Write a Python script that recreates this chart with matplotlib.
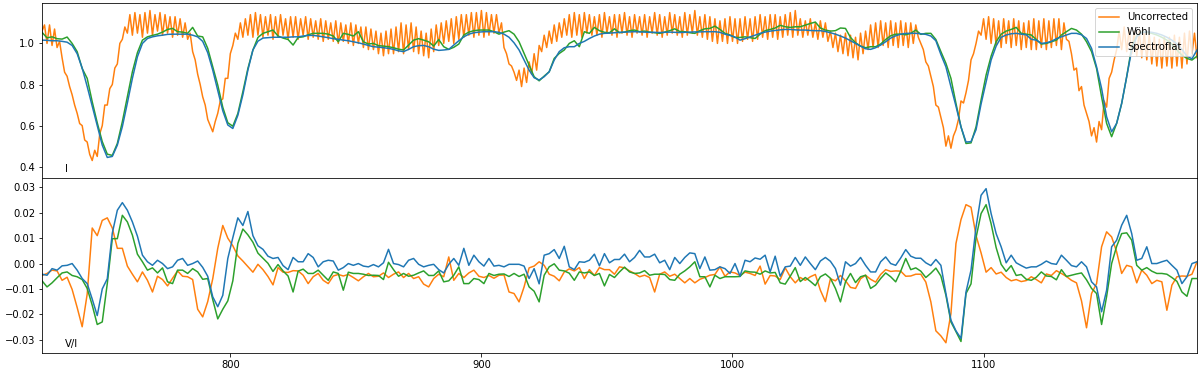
import numpy as np
import matplotlib
matplotlib.use("Agg")
import matplotlib.pyplot as plt

# Intensidad sin corregir (paso de 1, franjas de interferencia)
I_uncorr = [
    1.06, 1.09, 1.00, 1.09, 0.99, 1.07, 0.98, 1.01, 0.93, 0.86,
    0.84, 0.79, 0.75, 0.70, 0.66, 0.61, 0.60, 0.53, 0.52, 0.46,
    0.43, 0.48, 0.45, 0.56, 0.60, 0.70, 0.70, 0.78, 0.80, 0.88,
    0.90, 1.00, 1.02, 1.08, 1.05, 1.14, 1.04, 1.15, 1.05, 1.14,
    1.03, 1.15, 1.05, 1.16, 1.04, 1.14, 1.06, 1.15, 1.04, 1.14,
    1.05, 1.13, 1.03, 1.13, 1.04, 1.12, 1.03, 1.10, 1.02, 1.05,
    0.96, 0.92, 0.85, 0.80, 0.74, 0.70, 0.63, 0.60, 0.57, 0.62,
    0.66, 0.72, 0.73, 0.83, 0.83, 0.95, 0.99, 1.05, 1.02, 1.10,
    1.03, 1.12, 1.04, 1.14, 1.03, 1.15, 1.04, 1.14, 1.03, 1.13,
    1.04, 1.14, 1.02, 1.13, 1.03, 1.14, 1.04, 1.12, 1.02, 1.13,
    1.03, 1.13, 1.02, 1.12, 1.04, 1.13, 1.02, 1.12, 1.03, 1.11,
    1.02, 1.12, 1.01, 1.11, 1.02, 1.10, 1.01, 1.11, 1.00, 1.10,
    1.01, 1.09, 1.00, 1.10, 0.99, 1.09, 1.00, 1.08, 0.98, 1.08,
    0.97, 1.07, 0.97, 1.06, 0.95, 1.05, 0.94, 1.06, 0.95, 1.07,
    0.95, 1.08, 0.96, 1.10, 0.95, 1.09, 0.97, 1.10, 0.96, 1.08,
    0.95, 1.06, 0.94, 1.05, 0.93, 1.07, 0.96, 1.09, 0.99, 1.10,
    1.00, 1.11, 1.01, 1.12, 1.00, 1.13, 1.02, 1.14, 1.03, 1.14,
    1.04, 1.15, 1.03, 1.15, 1.04, 1.16, 1.03, 1.15, 1.04, 1.14,
    1.05, 1.14, 1.05, 1.10, 0.98, 0.95, 0.90, 0.89, 0.86, 0.82,
    0.87, 0.79, 0.88, 0.81, 0.91, 0.85, 0.95, 0.87, 0.99, 0.96,
    1.04, 0.98, 1.06, 1.00, 1.09, 1.01, 1.10, 1.03, 1.12, 1.04,
    1.14, 1.03, 1.15, 1.04, 1.14, 1.03, 1.15, 1.05, 1.14, 1.04,
    1.13, 1.04, 1.14, 1.03, 1.15, 1.05, 1.13, 1.04, 1.14, 1.03,
    1.14, 1.05, 1.15, 1.04, 1.13, 1.03, 1.14, 1.05, 1.13, 1.04,
    1.14, 1.03, 1.13, 1.05, 1.15, 1.04, 1.14, 1.03, 1.13, 1.04,
    1.15, 1.05, 1.14, 1.04, 1.13, 1.03, 1.15, 1.04, 1.14, 1.05,
    1.16, 1.04, 1.13, 1.03, 1.14, 1.02, 1.13, 1.01, 1.12, 1.00,
    1.11, 1.01, 1.12, 1.00, 1.13, 1.01, 1.12, 1.00, 1.12, 1.01,
    1.13, 1.02, 1.12, 1.01, 1.13, 1.02, 1.14, 1.03, 1.13, 1.02,
    1.14, 1.03, 1.14, 1.02, 1.13, 1.03, 1.14, 1.04, 1.15, 1.03,
    1.16, 1.04, 1.12, 1.03, 1.11, 1.04, 1.12, 1.03, 1.10, 1.02,
    1.11, 1.03, 1.10, 1.01, 1.06, 0.98, 1.05, 0.96, 1.04, 0.95,
    1.05, 0.94, 1.04, 0.93, 1.03, 0.92, 1.05, 0.95, 1.06, 0.97,
    1.09, 0.98, 1.10, 0.98, 1.11, 0.99, 1.10, 0.98, 1.11, 0.99,
    1.10, 0.98, 1.11, 0.99, 1.10, 0.98, 1.10, 1.00, 1.09, 1.03,
    1.00, 0.97, 0.91, 0.89, 0.84, 0.79, 0.70, 0.69, 0.64, 0.59,
    0.50, 0.55, 0.49, 0.55, 0.58, 0.63, 0.72, 0.71, 0.76, 0.82,
    0.92, 0.95, 1.00, 1.06, 1.04, 1.12, 1.02, 1.13, 1.00, 1.12,
    0.99, 1.11, 0.98, 1.12, 1.00, 1.11, 0.98, 1.12, 0.99, 1.11,
    0.97, 1.10, 0.98, 1.11, 0.97, 1.12, 0.97, 1.11, 0.98, 1.12,
    0.97, 1.11, 0.98, 1.12, 0.99, 1.12, 0.97, 1.10, 1.02, 1.01,
    0.95, 0.87, 0.88, 0.77, 0.79, 0.70, 0.66, 0.62, 0.55, 0.59,
    0.52, 0.62, 0.58, 0.72, 0.69, 0.83, 0.86, 0.92, 0.97, 1.06,
    0.97, 1.08, 0.96, 1.07, 0.95, 1.06, 0.94, 1.06, 0.93, 1.05,
    0.92, 1.04, 0.90, 1.03, 0.89, 1.02, 0.88, 1.03, 0.89, 1.03,
    0.88, 1.04, 0.89, 1.03, 0.88, 1.05, 0.90, 1.06, 0.95, 1.05, 0.93,
]

# Intensidad corregida (paso de 2)
I_wohl = [
    1.054, 1.027, 1.032, 1.023, 1.021, 1.031, 1.000, 0.960, 0.878, 0.830,
    0.716, 0.614, 0.522, 0.461, 0.455, 0.513, 0.619, 0.740, 0.862, 0.955,
    1.016, 1.032, 1.039, 1.045, 1.055, 1.068, 1.073, 1.057, 1.055, 1.049,
    1.078, 1.036, 1.032, 0.976,
    0.886, 0.797, 0.689, 0.614, 0.597, 0.659, 0.765, 0.878, 0.968, 1.029,
    1.049, 1.057, 1.065, 1.036, 1.026, 1.019, 0.992, 1.029, 1.032, 1.042,
    1.049, 1.049, 1.049, 1.045, 1.036, 1.008, 1.049, 1.044, 1.036, 1.057,
    1.008, 0.997, 1.000,
    0.989, 0.987, 0.984, 0.979, 0.972, 0.968, 0.992, 1.016, 1.023, 1.016,
    1.008, 0.987, 1.019, 0.984, 0.971, 0.981, 0.997, 1.041, 1.055, 1.062,
    1.065, 1.065, 1.065, 1.057, 1.045, 1.055, 1.062, 1.045, 1.008, 0.951,
    0.895, 0.838, 0.818,
    0.841, 0.862, 0.927, 0.951, 0.968, 1.000, 1.013, 0.984, 1.057, 1.049,
    1.078, 1.062, 1.054, 1.052, 1.071, 1.052, 1.055, 1.062, 1.065, 1.057,
    1.060, 1.055, 1.052, 1.049, 1.055, 1.062, 1.071, 1.058, 1.057, 1.052,
    1.049, 1.062, 1.071,
    1.073, 1.084, 1.068, 1.049, 1.041, 1.029, 1.029, 1.032, 1.028, 1.024,
    1.045, 1.062, 1.068, 1.075, 1.088, 1.081, 1.078, 1.081, 1.081, 1.089,
    1.097, 1.104, 1.075, 1.065, 1.060, 1.062, 1.075, 1.073, 1.029, 1.003,
    0.987, 0.979,
    0.984, 0.984, 0.997, 1.019, 1.037, 1.045, 1.045, 1.042, 1.049, 1.065,
    1.044, 1.049, 1.049, 1.019, 0.960, 0.903, 0.830, 0.708, 0.594, 0.513,
    0.516, 0.594, 0.724, 0.846, 0.938, 1.008, 1.045, 1.060, 1.068, 1.078,
    1.049, 1.045, 1.041,
    1.019, 0.997, 1.000, 1.008, 1.016, 1.041, 1.057, 1.073, 1.065, 1.045,
    1.008, 0.960, 0.878, 0.740, 0.611, 0.546, 0.611, 0.708, 0.838, 0.984,
    1.036, 1.055, 1.054, 1.049, 1.041, 1.030, 1.016, 0.997, 0.968, 0.943,
    0.927, 0.919, 0.938,
]

I_flat = [
    1.016, 1.015, 1.013, 1.013, 1.010, 1.006, 0.990, 0.950, 0.880, 0.790,
    0.695, 0.600, 0.505, 0.445, 0.450, 0.505, 0.595, 0.710, 0.830, 0.935,
    1.000, 1.024, 1.032, 1.037, 1.040, 1.044, 1.045, 1.045, 1.045, 1.045,
    1.040, 1.032, 1.010, 0.955,
    0.870, 0.770, 0.672, 0.603, 0.586, 0.650, 0.750, 0.870, 0.968, 1.011,
    1.026, 1.028, 1.030, 1.030, 1.030, 1.030, 1.032, 1.032, 1.036, 1.039,
    1.039, 1.036, 1.032, 1.028, 1.023, 1.020, 1.016, 1.013, 1.008, 1.003,
    0.997, 0.990, 0.984,
    0.982, 0.979, 0.976, 0.971, 0.964, 0.960, 0.971, 0.984, 0.989, 0.990,
    0.984, 0.972, 0.966, 0.968, 0.971, 0.992, 1.013, 1.032, 1.045, 1.052,
    1.055, 1.057, 1.057, 1.057, 1.054, 1.045, 1.030, 1.003, 0.968, 0.919,
    0.870, 0.833, 0.822,
    0.838, 0.862, 0.919, 0.960, 0.979, 0.984, 0.984, 1.000, 1.010, 1.024,
    1.036, 1.045, 1.049, 1.050, 1.052, 1.054, 1.055, 1.056, 1.057, 1.056,
    1.055, 1.054, 1.054, 1.053, 1.054, 1.055, 1.054, 1.053, 1.054, 1.055,
    1.056, 1.056, 1.057,
    1.057, 1.057, 1.054, 1.045, 1.039, 1.031, 1.016, 1.023, 1.032, 1.040,
    1.049, 1.055, 1.060, 1.063, 1.066, 1.068, 1.068, 1.066, 1.065, 1.065,
    1.063, 1.062, 1.062, 1.058, 1.052, 1.045, 1.036, 1.026, 1.013, 1.000,
    0.987, 0.974,
    0.971, 0.979, 0.992, 1.008, 1.026, 1.037, 1.045, 1.049, 1.049, 1.049,
    1.047, 1.044, 1.036, 1.013, 0.946, 0.886, 0.789, 0.695, 0.594, 0.520,
    0.522, 0.580, 0.705, 0.813, 0.919, 0.987, 1.030, 1.041, 1.047, 1.049,
    1.045, 1.042, 1.020,
    1.016, 1.000, 1.003, 1.010, 1.023, 1.032, 1.041, 1.049, 1.049, 1.042,
    1.024, 0.976, 0.886, 0.781, 0.643, 0.570, 0.611, 0.708, 0.838, 0.968,
    1.032, 1.052, 1.057, 1.054, 1.049, 1.041, 1.030, 1.016, 0.997, 0.971,
    0.938, 0.925, 0.968,
]

# V/I en unidades de 1e-3 (paso de 2)
V_uncorr = [
    -4.7, -3.9, -2.6, -2.9, -6.6, -5.4, -10.2, -17.3, -24.9, -12.0,
    14.0, 11.0, 17.0, 18.0, 14.0, 6.0, 6.0, -1.0, -4.2, -7.2,
    -3.3, -6.6, -11.2, -5.0, -6.3, -8.8, -5.8, -2.9, -5.0, -5.2,
    -6.3, -18.0, -21.0, -15.0,
    -6.0, 6.0, 15.0, 10.0, 7.0, 3.0, 1.0, -1.2, -3.4, -0.3,
    -2.4, -5.1, -8.4, -1.6, -3.4, -3.5, -2.8, -2.9, -4.6, -7.9,
    -5.2, -3.9, -6.6, -7.9, -4.9, -4.3, -4.9, -4.3, -5.5, -6.8,
    -5.2, -3.9, -5.2,
    -5.0, -3.7, -5.5, -4.2, -3.3, -5.5, -3.9, -5.9, -5.2, -8.1,
    -9.2, -5.9, -4.2, -5.2, 2.6, -6.6, -3.9, -5.5, -3.7, -2.6,
    -5.0, -5.5, -4.7, -5.8, -4.6, -4.5, -11.2, -11.8, -15.1, -9.2,
    -1.7, -1.0, 0.7,
    -0.7, -4.2, -5.0, -6.8, -3.3, -2.1, -2.9, -1.6, -5.9, -2.4,
    -4.7, -1.6, -2.4, -2.4, -4.2, -1.3, -1.7, -2.9, -3.9, -5.2,
    -4.6, -5.5, -11.2, -4.2, -3.3, -5.0, -4.2, -5.9, -7.6, -5.9,
    -7.6, -6.2, -5.5,
    -4.6, -4.3, -1.3, -5.0, -3.3, -3.7, -4.7, -3.4, -3.9, -4.7,
    -1.0, -8.1, -4.7, -4.9, -6.3, -1.7, -5.2, -7.6, -5.5, -6.6,
    -5.2, -4.3, -10.5, -15.0, -6.0, -6.8, -4.7, -6.8, -9.4, -9.8,
    -6.0, -4.6,
    -6.2, -7.3, -4.3, -2.4, -3.1, -2.9, -3.0, -5.0, -4.9, -4.2,
    -4.2, -7.3, -15.1, -26.5, -28.5, -31.2, -19.7, 7.9, 17.3, 23.2,
    22.2, 11.0, 4.2, -3.4, -1.6, -4.1, -3.4, -5.5, -6.8, -6.3,
    -7.1, -6.7, -5.2,
    -6.3, -7.6, -4.1, -4.7, -2.8, -3.9, -5.1, -6.6, -7.6, -14.7,
    -25.3, -11.8, -7.9, 6.6, 12.5, 10.5, 4.6, -3.9, -0.7, -1.3,
    -7.6, -2.6, -4.6, -7.9, -6.6, -7.2, -18.4, -8.5, -5.2, -4.9,
    -5.0, -4.2, 0.7,
]

V_wohl = [
    -6.8, -9.2, -7.6, -5.6, -3.7, -3.3, -4.7, -5.2, -6.3, -9.8,
    -16.4, -24.0, -23.0, -7.9, 9.8, 9.8, 19.0, 16.4, 11.2, 3.7,
    0.7, -2.6, -1.7, -3.7, -1.7, -7.2, -7.9, -2.6, -2.6, -3.9,
    -2.0, -3.3, -6.2, -5.9,
    -14.2, -21.8, -18.0, -14.7, -6.8, 7.9, 13.6, 11.3, 8.4, 4.1,
    2.1, 0.1, -3.1, -0.4, -2.9, -4.9, -11.2, -3.0, -2.2, -3.9,
    -3.9, -2.6, -4.6, -6.6, -3.3, -3.9, -10.5, -3.4, -3.9, -3.9,
    -4.2, -4.7, -4.6,
    -4.7, -6.3, 0.5, -2.4, -5.0, -3.9, -5.0, -4.6, -3.7, -2.9,
    -4.7, -4.7, -2.9, -7.2, -6.8, -4.6, -1.3, -7.9, -7.9, -5.9,
    -6.3, -7.9, -3.9, -4.7, -4.2, -4.1, -5.1, -3.9, -5.1, -4.2,
    -9.2, -10.9, -15.1,
    -4.6, -1.3, -0.1, -2.6, -2.9, -3.8, -6.6, -3.3, -3.7, -3.3,
    -4.7, -3.9, -8.8, -4.3, -5.5, -3.3, -1.4, -3.3, -3.9, -3.7,
    -2.8, -4.6, -4.2, -4.2, -4.3, -6.3, -6.6, -4.2, -2.9, -1.3,
    0.7, -5.2, -5.2,
    -9.2, -4.6, -5.9, -5.2, -5.2, -5.2, -5.1, -2.9, -3.3, -3.4,
    -4.2, -2.9, -3.7, -3.5, -7.6, -8.1, -5.0, -1.6, -7.1, -5.5,
    -7.0, -8.7, -5.2, -4.1, -5.8, -9.8, -15.1, -7.2, -3.9, -7.5,
    -5.2, -4.6,
    -9.8, -8.5, -5.9, -3.7, -5.2, -7.2, -3.0, 2.0, -2.4, -1.7,
    -3.0, -5.5, -3.8, -1.8, -4.9, -12.5, -23.0, -26.8, -30.7, -11.8,
    -8.0, 10.2, 19.7, 23.2, 15.7, 6.3, -0.3, -3.1, -0.8, -4.7,
    -4.3, -6.2, -6.6,
    -5.4, -3.3, -4.9, -5.1, -6.4, -2.4, -5.1, -4.6, -4.1, -3.7,
    -6.4, -9.8, -11.8, -24.0, -13.0, 0.0, 6.8, 11.8, 12.1, 9.2,
    -0.7, -2.6, -1.6, -3.0, -3.9, -3.9, -4.2, -5.5, -7.0, -11.2,
    -12.9, -5.9, -5.9,
]

V_flat = [
    -4.2, -4.6, -2.0, -2.6, -0.9, -0.7, 0.0, -2.6, -5.9, -7.9,
    -14.0, -20.5, -10.0, -6.0, 12.0, 21.0, 24.0, 21.0, 16.4, 10.8,
    3.3, 0.7, -0.7, 1.3, 0.0, -2.0, -1.3, 1.3, 2.0, -0.7,
    0.0, 1.0, -1.5, -5.0,
    -13.1, -17.0, -12.5, 2.0, 10.2, 18.0, 15.0, 20.5, 11.0, 7.0,
    5.6, 2.9, 2.0, 2.4, -0.8, -2.4, 2.4, 0.7, 0.7, 3.9,
    2.4, -1.3, 0.7, 1.3, 1.0, -2.6, -1.6, 0.0, -0.7, 0.0,
    -1.0, -1.3, -0.4,
    -1.3, 0.3, 5.6, 0.0, -0.4, -1.3, 1.3, 2.0, -0.3, -1.3,
    -0.7, -0.3, -2.4, -3.7, -0.3, 2.0, -0.7, 6.0, -0.7, 3.3,
    0.7, -1.0, 2.0, -1.0, -0.7, -1.3, -0.3, -0.3, -0.3, -1.0,
    -5.9, -2.0, -8.0,
    3.3, 3.9, 5.5, 2.0, 6.8, -1.3, -2.4, 0.7, 0.5, 1.3,
    3.7, -0.9, 3.9, 0.3, 1.6, 1.6, 3.7, 0.7, 2.4, 5.2,
    2.6, 2.6, 3.7, 0.3, 1.3, -2.4, 2.4, 0.0, 2.4, 4.2,
    3.9, -2.0, 2.6,
    -2.6, -2.4, -1.3, -2.0, -3.9, 0.0, -5.0, 1.3, 0.7, 2.2,
    1.7, 3.3, -3.3, 2.9, -5.0, -1.3, -1.0, 2.4, -0.7, 2.6,
    0.0, -2.4, 1.0, 2.4, 0.9, -2.0, -8.5, 0.7, -1.0, 0.0,
    2.4, -0.7,
    -3.3, -3.3, 0.7, 2.6, 0.0, -0.7, 2.2, 5.5, 2.9, 2.1,
    2.1, 0.3, -0.8, 1.6, -0.7, -11.8, -22.3, -26.5, -29.5, -11.2,
    -2.6, 14.4, 26.9, 29.5, 19.7, 11.8, 6.6, 0.3, 3.3, 0.3,
    -0.8, -1.8, -1.3,
    -1.3, -0.3, 1.0, 0.0, -0.3, 3.3, 1.3, -0.8, -1.3, 0.7,
    -1.3, -7.2, -9.2, -19.0, -10.5, 6.6, 9.2, 15.1, 19.0, 11.8,
    1.3, 2.0, 6.6, 0.0, 0.0, 0.7, 1.3, -0.7, -2.6, -7.9,
    -5.2, 0.0, 0.7,
]

# ejes de longitud de onda
lam1 = np.arange(725, 725 + len(I_uncorr))
lam2 = np.arange(725, 725 + 2 * len(I_flat), 2)
assert len(I_uncorr) == 461
for serie in (I_wohl, I_flat, V_uncorr, V_wohl, V_flat):
    assert len(serie) == 231, len(serie)

fig, (ax1, ax2) = plt.subplots(2, 1, sharex=True, figsize=(1200 / 72, 372 / 72), dpi=72)
fig.subplots_adjust(left=0.035, right=0.9975, top=0.991, bottom=0.052, hspace=0)

ax1.plot(lam1, I_uncorr, color="tab:orange", label="Uncorrected")
ax1.plot(lam2, I_wohl, color="tab:green", label="Wöhl")
ax1.plot(lam2, I_flat, color="tab:blue", label="Spectroflat")
ax1.set_ylim(0.345, 1.195)
ax1.legend(loc="upper right")
ax1.text(0.02, 0.035, "I", transform=ax1.transAxes)

ax2.plot(lam2, np.array(V_uncorr) * 1e-3, color="tab:orange")
ax2.plot(lam2, np.array(V_wohl) * 1e-3, color="tab:green")
ax2.plot(lam2, np.array(V_flat) * 1e-3, color="tab:blue")
ax2.set_ylim(-0.0351, 0.0337)
ax2.set_xlim(725, 1185)
ax2.text(0.02, 0.035, "V/I", transform=ax2.transAxes)

fig.savefig("out.png", dpi=72)
